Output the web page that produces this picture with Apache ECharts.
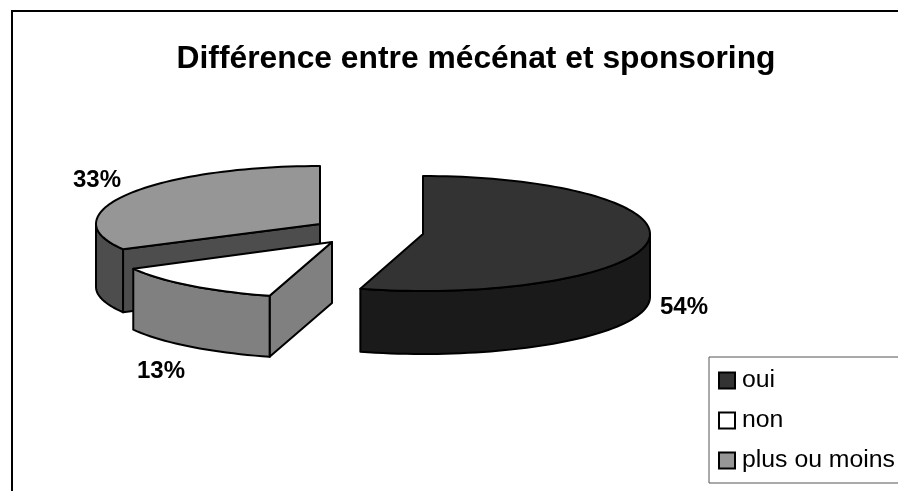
<!DOCTYPE html>
<html>
<head>
<meta charset="utf-8">
<style>html,body{margin:0;padding:0;background:#fff}#c{width:898px;height:491px}</style>
<script src="https://cdn.jsdelivr.net/npm/echarts@6/dist/echarts.min.js"></script>
</head>
<body>
<div id="c"></div>
<script>
const titleText = 'Différence entre mécénat et sponsoring';
const categories = ['oui', 'non', 'plus ou moins'];
const shares = [54.45, 12.65, 32.9];

const FONT = '"Liberation Sans", Arial, sans-serif';
const topColors = ['#333333', '#ffffff', '#969696'];
const sideColors = ['#1a1a1a', '#808080', '#4d4d4d'];
const layout = [
  { cx: 423, cy: 234, rx: 227, ryBack: 58, ryFront: 57, depth: 63, lx: 684, ly: 307 },
  { cx: 332, cy: 242, rx: 226, ryBack: 58, ryFront: 56, depth: 61, lx: 161, ly: 371 },
  { cx: 320, cy: 224, rx: 224, ryBack: 58, ryFront: 53, depth: 63, lx: 97, ly: 180 }
];
const STROKE = { stroke: '#000', lineWidth: 2, lineJoin: 'round' };

const total = shares.reduce((a, b) => a + b, 0);
const starts = shares.map((_, i) => shares.slice(0, i).reduce((a, b) => a + b, 0) / total * 360);
const ends = starts.map((s, i) => s + shares[i] / total * 360);

function pt(l, deg, drop) {
  const t = deg * Math.PI / 180, c = Math.cos(t);
  return [l.cx + l.rx * Math.sin(t), l.cy - (c > 0 ? l.ryBack : l.ryFront) * c + (drop || 0)];
}
function arc(l, a, b, drop) {
  const pts = [], n = Math.max(2, Math.ceil(Math.abs(b - a) / 2));
  for (let k = 0; k <= n; k++) pts.push(pt(l, a + (b - a) * k / n, drop));
  return pts;
}
function polygon(points, fill) {
  return { type: 'polygon', shape: { points }, style: Object.assign({ fill }, STROKE) };
}
function makeRender(i) {
  return function (params, api) {
    const val = api.value(0);
    const l = layout[i], a = starts[i], b = ends[i];
    const children = [];
    const apex = [l.cx, l.cy];
    const apexLow = [l.cx, l.cy + l.depth];
    // the radial wall at the start angle faces the viewer when it lies in the lower-left quadrants
    if (a > 90 && a < 270 && i > 0) {
      children.push(polygon([apex, pt(l, a), pt(l, a, l.depth), apexLow], sideColors[i]));
    }
    // outer rim, front half only
    const ra = Math.max(a, 90), rb = Math.min(b, 270);
    if (rb > ra) {
      children.push(polygon(arc(l, ra, rb, 0).concat(arc(l, rb, ra, l.depth)), sideColors[i]));
    }
    // top face
    children.push(polygon([apex].concat(arc(l, a, b, 0)), topColors[i]));
    // percentage label
    children.push({
      type: 'text',
      style: {
        x: l.lx, y: l.ly, text: Math.round(val) + '%',
        fill: '#000', font: 'bold 24px ' + FONT, align: 'center', verticalAlign: 'middle'
      }
    });
    return { type: 'group', children };
  };
}

const series = categories.map((name, i) => ({
  type: 'custom',
  name,
  coordinateSystem: 'none',
  renderItem: makeRender(i),
  data: [[shares[i]]],
  z: 2 + (2 - i),
  itemStyle: { color: topColors[i], borderColor: '#000', borderWidth: 2 },
  animation: false,
  silent: true
})).reverse();

const chart = echarts.init(document.getElementById('c'), null, { renderer: 'canvas' });
chart.setOption({
  animation: false,
  backgroundColor: '#fff',
  title: {
    text: titleText, left: 471, top: 38, textAlign: 'center',
    textStyle: { fontFamily: FONT, fontWeight: 'bold', fontSize: 31.8, color: '#000' }
  },
  legend: {
    data: categories,
    orient: 'vertical',
    left: 709, top: 357,
    padding: [10, 20, 9, 9],
    itemWidth: 16, itemHeight: 16, itemGap: 13,
    icon: 'rect',
    backgroundColor: '#fff',
    borderColor: '#555', borderWidth: 1,
    selectedMode: false,
    textStyle: { fontFamily: FONT, fontSize: 24.8, color: '#000', lineHeight: 27, padding: [0, 0, 0, 2] }
  },
  graphic: [{
    type: 'rect', silent: true, z: 0,
    shape: { x: 12, y: 11, width: 1000, height: 1000 },
    style: { fill: null, stroke: '#000', lineWidth: 2 }
  }],
  series
});
</script>
</body>
</html>
